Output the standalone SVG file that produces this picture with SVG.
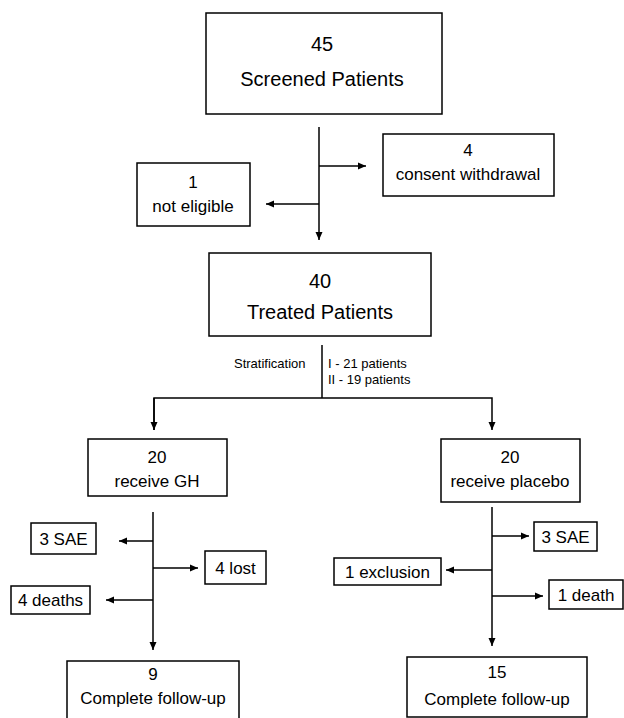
<svg xmlns="http://www.w3.org/2000/svg" width="624" height="718" viewBox="0 0 624 718">
<style>
.box{fill:#fff;stroke:#000;stroke-width:1.5}
.t{font-family:"Liberation Sans",Arial,sans-serif;fill:#000;text-anchor:middle}
.big{font-size:20px}
.med{font-size:17px}
.sm{font-size:13px;text-anchor:start}
.ln{stroke:#000;stroke-width:1.5;fill:none}
</style>
<defs>
<marker id="ah" markerUnits="userSpaceOnUse" markerWidth="9" markerHeight="8" refX="8" refY="4" orient="auto">
<path d="M0,0.5 L8,4 L0,7.5 z" fill="#000"/>
</marker>
</defs>
<rect width="624" height="718" fill="#fff"/>
<g id="connectors">
<line class="ln" x1="319" y1="127" x2="319" y2="240" marker-end="url(#ah)"/>
<line class="ln" x1="319" y1="166" x2="366" y2="166" marker-end="url(#ah)"/>
<line class="ln" x1="319" y1="204" x2="266" y2="204" marker-end="url(#ah)"/>
<line class="ln" x1="322" y1="345" x2="322" y2="398"/>
<polyline class="ln" points="154,430 154,398 492,398 492,430" marker-end="url(#ah)"/>
<line class="ln" x1="154" y1="398" x2="154" y2="430" marker-end="url(#ah)"/>
<line class="ln" x1="153" y1="512" x2="153" y2="650" marker-end="url(#ah)"/>
<line class="ln" x1="153" y1="541" x2="119" y2="541" marker-end="url(#ah)"/>
<line class="ln" x1="153" y1="568" x2="198" y2="568" marker-end="url(#ah)"/>
<line class="ln" x1="153" y1="600" x2="106" y2="600" marker-end="url(#ah)"/>
<line class="ln" x1="492" y1="507" x2="492" y2="646" marker-end="url(#ah)"/>
<line class="ln" x1="492" y1="536" x2="529" y2="536" marker-end="url(#ah)"/>
<line class="ln" x1="492" y1="570" x2="446" y2="570" marker-end="url(#ah)"/>
<line class="ln" x1="492" y1="596" x2="543" y2="596" marker-end="url(#ah)"/>
</g>
<g id="screened">
<rect class="box" x="206" y="13" width="236" height="101"/>
<text class="t big" x="322" y="51">45</text>
<text class="t big" x="322" y="86">Screened Patients</text>
</g>
<g id="consent">
<rect class="box" x="383" y="134" width="171" height="62"/>
<text class="t med" x="468" y="156">4</text>
<text class="t med" x="468" y="180">consent withdrawal</text>
</g>
<g id="noteligible">
<rect class="box" x="137" y="163" width="113" height="63"/>
<text class="t med" x="193" y="188">1</text>
<text class="t med" x="193" y="212">not eligible</text>
</g>
<g id="treated">
<rect class="box" x="209" y="253" width="222" height="83"/>
<text class="t big" x="320" y="288">40</text>
<text class="t big" x="320" y="319">Treated Patients</text>
</g>
<g id="stratification">
<text class="t sm" x="234" y="368">Stratification</text>
<text class="t sm" x="328" y="368">I - 21 patients</text>
<text class="t sm" x="328" y="384">II - 19 patients</text>
</g>
<g id="gh">
<rect class="box" x="88" y="439" width="139" height="57"/>
<text class="t med" x="157" y="463">20</text>
<text class="t med" x="157" y="487">receive GH</text>
</g>
<g id="placebo">
<rect class="box" x="441" y="439" width="139" height="63"/>
<text class="t med" x="510" y="463">20</text>
<text class="t med" x="510" y="487">receive placebo</text>
</g>
<g id="sae-gh">
<rect class="box" x="31" y="523" width="65" height="31"/>
<text class="t med" x="63.5" y="545">3 SAE</text>
</g>
<g id="lost">
<rect class="box" x="205" y="551" width="61" height="33"/>
<text class="t med" x="235.5" y="574">4 lost</text>
</g>
<g id="deaths">
<rect class="box" x="11" y="586" width="79" height="28"/>
<text class="t med" x="50.5" y="606">4 deaths</text>
</g>
<g id="complete-gh">
<rect class="box" x="67" y="661" width="172" height="62"/>
<text class="t med" x="153" y="680">9</text>
<text class="t med" x="153" y="704">Complete follow-up</text>
</g>
<g id="sae-placebo">
<rect class="box" x="534" y="522" width="63" height="29"/>
<text class="t med" x="565.5" y="543">3 SAE</text>
</g>
<g id="exclusion">
<rect class="box" x="334" y="558" width="107" height="27"/>
<text class="t med" x="387.5" y="578">1 exclusion</text>
</g>
<g id="death">
<rect class="box" x="549" y="580" width="74" height="29"/>
<text class="t med" x="586" y="601">1 death</text>
</g>
<g id="complete-placebo">
<rect class="box" x="407" y="657" width="180" height="60"/>
<text class="t med" x="497" y="678">15</text>
<text class="t med" x="497" y="705">Complete follow-up</text>
</g>
</svg>
